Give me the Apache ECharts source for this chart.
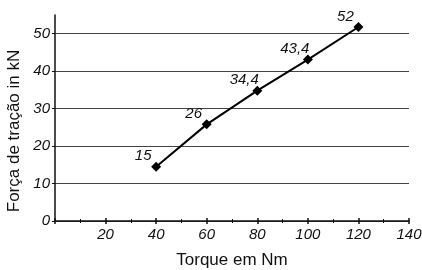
<!DOCTYPE html>
<html>
<head>
<meta charset="utf-8">
<script src="https://cdn.jsdelivr.net/npm/echarts@6/dist/echarts.min.js"></script>
<style>
  html, body { margin: 0; padding: 0; background: #fff; }
  #chart { width: 422px; height: 270px; }
</style>
</head>
<body>
<div id="chart"></div>
<script>
// torque (Nm) vs tensile force (kN)
const torque = [40, 60, 80, 100, 120];
const force = [14.5, 25.8, 34.8, 43.1, 51.8];
const pointLabels = ['15', '26', '34,4', '43,4', '52'];
const xTicks = [20, 40, 60, 80, 100, 120, 140];
const yTicks = [0, 10, 20, 30, 40, 50];

const font = '"Liberation Sans", Arial, sans-serif';

const chart = echarts.init(document.getElementById('chart'));
chart.setOption({
    animation: false,
    grid: { left: 55, right: 13, top: 15, bottom: 49, outerBoundsMode: 'none' },
    xAxis: [{
        type: 'value',
        min: 0,
        max: 140,
        interval: 20,
        name: 'Torque em Nm',
        nameLocation: 'middle',
        nameGap: 31,
        nameTextStyle: { color: '#111', fontSize: 17, fontFamily: font },
        axisLine: { lineStyle: { color: '#111', width: 1.5 } },
        axisTick: { length: 3, lineStyle: { color: '#111', width: 1.5 } },
        minorTick: { show: true, splitNumber: 2, length: 2, lineStyle: { color: '#111' } },
        axisLabel: {
            customValues: xTicks,
            margin: 6,
            color: '#111',
            fontSize: 15,
            fontStyle: 'italic',
            fontFamily: font
        },
        splitLine: { show: false }
    }, {
        // inner half of the crossing ticks
        type: 'value',
        position: 'bottom',
        min: 0,
        max: 140,
        interval: 20,
        axisLine: { show: false },
        axisTick: { inside: true, length: 3, lineStyle: { color: '#111', width: 1.5 } },
        minorTick: { show: true, splitNumber: 2, length: 2, lineStyle: { color: '#111' } },
        axisLabel: { show: false },
        splitLine: { show: false }
    }],
    yAxis: {
        type: 'value',
        min: 0,
        max: 55,
        interval: 10,
        name: 'Força de tração in kN',
        nameLocation: 'middle',
        nameGap: 29,
        nameTextStyle: { color: '#111', fontSize: 17, fontFamily: font, padding: [0, 26, 0, 0] },
        axisLine: { show: true, lineStyle: { color: '#111', width: 1.5 } },
        axisTick: { show: true, customValues: yTicks, length: 3, lineStyle: { color: '#111' } },
        axisLabel: {
            customValues: yTicks,
            margin: 5,
            color: '#111',
            fontSize: 15,
            fontStyle: 'italic',
            fontFamily: font
        },
        splitLine: { show: true, lineStyle: { color: '#444', width: 1 } }
    },
    series: [{
        type: 'line',
        xAxisIndex: 0,
        data: torque.map((t, i) => [t, force[i]]),
        symbol: 'diamond',
        symbolSize: 10,
        lineStyle: { color: '#000', width: 2 },
        itemStyle: { color: '#000' },
        label: {
            show: true,
            position: 'top',
            offset: [-13, 7],
            formatter: p => pointLabels[p.dataIndex],
            color: '#111',
            fontSize: 15,
            fontStyle: 'italic',
            fontFamily: font
        }
    }]
});
</script>
</body>
</html>
